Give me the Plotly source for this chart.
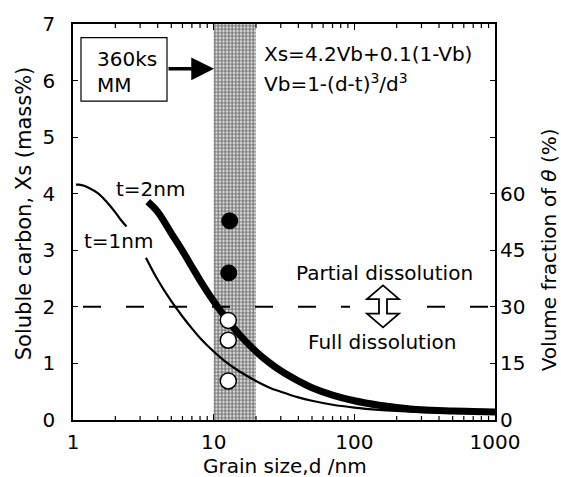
import math
import plotly.graph_objects as go

# ---- data ----
d_t1_a = [1.05, 1.1, 1.2, 1.3, 1.5, 1.7, 2.0, 2.2, 2.4]
xs_t1_a = [4.16, 4.16, 4.14, 4.10, 4.01, 3.88, 3.67, 3.53, 3.42]
d_t1_b = [3.3, 4, 5, 6, 7, 8, 10, 12, 15, 20, 25, 30, 40, 50, 70, 100, 150, 200, 300, 500, 700, 1000]
xs_t1_b = [2.87, 2.48, 2.10, 1.83, 1.62, 1.45, 1.21, 1.04, 0.87, 0.69, 0.57, 0.50, 0.40, 0.34, 0.27,
           0.22, 0.18, 0.16, 0.14, 0.125, 0.118, 0.11]
d_t2 = [3.4, 4, 5, 6, 7, 8, 10, 12, 15, 20, 25, 30, 40, 50, 70, 100, 150, 200, 300, 500, 700, 1000]
xs_t2 = [3.86, 3.68, 3.30, 2.99, 2.71, 2.47, 2.10, 1.83, 1.53, 1.21, 1.01, 0.87, 0.69, 0.57, 0.44,
         0.34, 0.26, 0.22, 0.18, 0.16, 0.15, 0.14]
filled_d = [13.0, 12.8]
filled_xs = [3.52, 2.60]
open_d = [12.7, 12.7, 12.7]
open_xs = [1.76, 1.41, 0.69]
band_d = [10, 20]
threshold_xs = 2.0
x_ticks = [1, 10, 100, 1000]
x_minor_ticks = [m * 10 ** e for e in range(3) for m in range(2, 10)]
y2_ticks = [0, 15, 30, 45, 60, 75, 90, 105]
y2_labels = ["0", "15", "30", "45", "60", "", "", ""]

FONT = "DejaVu Sans, Liberation Sans, Arial, sans-serif"

# plot area in pixels
L, R, T, B = 73, 495, 14, 420
W, H = 561, 477
X_LOG_RANGE = [0, 3]


def px(x):
    return (x - L) / (R - L)


def py(y):
    return (B - y) / (B - T)


fig = go.Figure()

# shaded band (dotted)
fig.add_trace(go.Scatter(
    x=[band_d[0], band_d[1], band_d[1], band_d[0], band_d[0]],
    y=[0, 0, 7, 7, 0], mode="lines", fill="toself",
    line=dict(width=0, color="rgba(0,0,0,0)"),
    fillcolor="rgba(0,0,0,0)",
    fillpattern=dict(shape=".", size=3.5, solidity=0.7, fgcolor="#000", bgcolor="white"),
    hoverinfo="skip", showlegend=False))

# threshold dashed line
fig.add_trace(go.Scatter(
    x=[x_ticks[0], x_ticks[-1]], y=[threshold_xs, threshold_xs], mode="lines",
    line=dict(color="black", width=2, dash="0px,10px,18px,15px"), showlegend=False))

# t = 1 nm curve (thin)
for dd, xx in [(d_t1_a, xs_t1_a), (d_t1_b, xs_t1_b)]:
    fig.add_trace(go.Scatter(x=dd, y=xx, mode="lines", line=dict(color="black", width=2.2, shape="spline"),
                             showlegend=False))

# t = 2 nm curve (thick)
fig.add_trace(go.Scatter(x=d_t2, y=xs_t2, mode="lines", line=dict(color="black", width=7, shape="spline"),
                         showlegend=False))

# measured points
fig.add_trace(go.Scatter(x=filled_d, y=filled_xs, mode="markers",
                         marker=dict(size=16, color="black", line=dict(color="black", width=1)),
                         showlegend=False))
fig.add_trace(go.Scatter(x=open_d, y=open_xs, mode="markers",
                         marker=dict(size=16, color="white", line=dict(color="black", width=1.5)),
                         showlegend=False))

# invisible trace for the right axis
fig.add_trace(go.Scatter(x=[1], y=[0], yaxis="y2", mode="markers",
                         marker=dict(opacity=0), hoverinfo="skip", showlegend=False))

shapes = []
# minor ticks of the log axis (bottom and top, inside)
for v in x_minor_ticks:
    xf = (math.log10(v) - X_LOG_RANGE[0]) / (X_LOG_RANGE[1] - X_LOG_RANGE[0])
    shapes.append(dict(type="line", xref="paper", yref="paper", ysizemode="pixel", yanchor=0,
                       x0=xf, x1=xf, y0=0, y1=4, line=dict(color="black", width=1.2), layer="above"))
    shapes.append(dict(type="line", xref="paper", yref="paper", ysizemode="pixel", yanchor=1,
                       x0=xf, x1=xf, y0=0, y1=-4, line=dict(color="black", width=1.2), layer="above"))
# white gap in dashed line behind the double arrow
shapes.append(dict(type="rect", xref="paper", yref="paper",
                   x0=px(350), x1=px(402), y0=py(309), y1=py(299),
                   fillcolor="white", line=dict(width=0), layer="above"))
# hollow double arrow
cx = 383
pts = [(cx, 282), (cx + 16, 296), (cx + 4, 296), (cx + 4, 311), (cx + 16, 311), (cx, 325),
       (cx - 16, 311), (cx - 4, 311), (cx - 4, 296), (cx - 16, 296)]
path = "M " + " L ".join(f"{px(a):.5f},{py(b):.5f}" for a, b in pts) + " Z"
shapes.append(dict(type="path", xref="paper", yref="paper", path=path,
                   fillcolor="white", line=dict(color="black", width=1.8), layer="above"))
# box for "360ks MM"
shapes.append(dict(type="rect", xref="paper", yref="paper",
                   x0=px(81), x1=px(167), y0=py(93), y1=py(28),
                   fillcolor="white", line=dict(color="black", width=1.2), layer="above"))

ann_font = dict(family=FONT, size=20, color="black")
title_font = dict(family=FONT, size=21, color="black")
annotations = [
    dict(x=px(95), y=py(63), xref="paper", yref="paper", text="360ks<br>MM", showarrow=False,
         xanchor="left", yanchor="middle", align="left", font=ann_font),
    dict(x=px(214), y=py(60), xref="paper", yref="paper", text="", showarrow=True,
         ax=-47, ay=0, axref="pixel", ayref="pixel", arrowhead=2, arrowsize=1.3, arrowwidth=3.5,
         arrowcolor="black"),
    dict(x=px(262), y=py(45), xref="paper", yref="paper", text="Xs=4.2Vb+0.1(1-Vb)", showarrow=False,
         xanchor="left", yanchor="middle", font=ann_font),
    dict(x=px(262), y=py(74), xref="paper", yref="paper", text="Vb=1-(d-t)<sup>3</sup>/d<sup>3</sup>",
         showarrow=False, xanchor="left", yanchor="middle", font=ann_font),
    dict(x=px(114), y=py(183), xref="paper", yref="paper", text="t=2nm", showarrow=False,
         xanchor="left", yanchor="middle", font=ann_font),
    dict(x=px(82), y=py(236), xref="paper", yref="paper", text="t=1nm", showarrow=False,
         xanchor="left", yanchor="middle", font=ann_font),
    dict(x=px(384), y=py(269), xref="paper", yref="paper", text="Partial dissolution", showarrow=False,
         xanchor="center", yanchor="middle", font=ann_font),
    dict(x=px(382), y=py(340), xref="paper", yref="paper", text="Full dissolution", showarrow=False,
         xanchor="center", yanchor="middle", font=ann_font),
    dict(x=px(24), y=py(208), xref="paper", yref="paper", text="Soluble carbon, Xs (mass%)",
         showarrow=False, textangle=-90, xanchor="center", yanchor="middle", font=title_font),
    dict(x=px(549), y=py(246), xref="paper", yref="paper", text="Volume fraction of <i>θ</i> (%)",
         showarrow=False, textangle=-90, xanchor="center", yanchor="middle", font=ann_font),
    dict(x=px(285), y=py(467), xref="paper", yref="paper", text="Grain size,d /nm",
         showarrow=False, xanchor="center", yanchor="middle", font=ann_font),
]

tick_font = dict(family=FONT, size=20, color="black")
fig.update_layout(
    width=W, height=H,
    margin=dict(l=L, r=W - R, t=T, b=H - B, pad=0),
    paper_bgcolor="white", plot_bgcolor="white",
    showlegend=False,
    xaxis=dict(type="log", range=X_LOG_RANGE, tickvals=x_ticks, ticktext=[str(v) for v in x_ticks],
               ticks="inside", ticklen=6, tickwidth=1.2, tickcolor="black",
               showline=True, linecolor="black", linewidth=1.5, mirror="ticks",
               showgrid=False, zeroline=False, tickfont=tick_font, ticklabelstandoff=3),
    yaxis=dict(range=[0, 7], dtick=1, ticks="inside", ticklen=5, tickwidth=1.2, tickcolor="black",
               showline=True, linecolor="black", linewidth=1.5, mirror=True,
               showgrid=False, zeroline=False, tickfont=tick_font, ticklabelstandoff=12),
    yaxis2=dict(overlaying="y", side="right", range=[0, 105], tickvals=y2_ticks, ticktext=y2_labels,
                ticks="inside", ticklen=5, tickwidth=1.2, tickcolor="black",
                showline=False, showgrid=False, zeroline=False, tickfont=tick_font, ticklabelstandoff=4),
    shapes=shapes,
    annotations=annotations,
)

fig.write_html("out.html")
